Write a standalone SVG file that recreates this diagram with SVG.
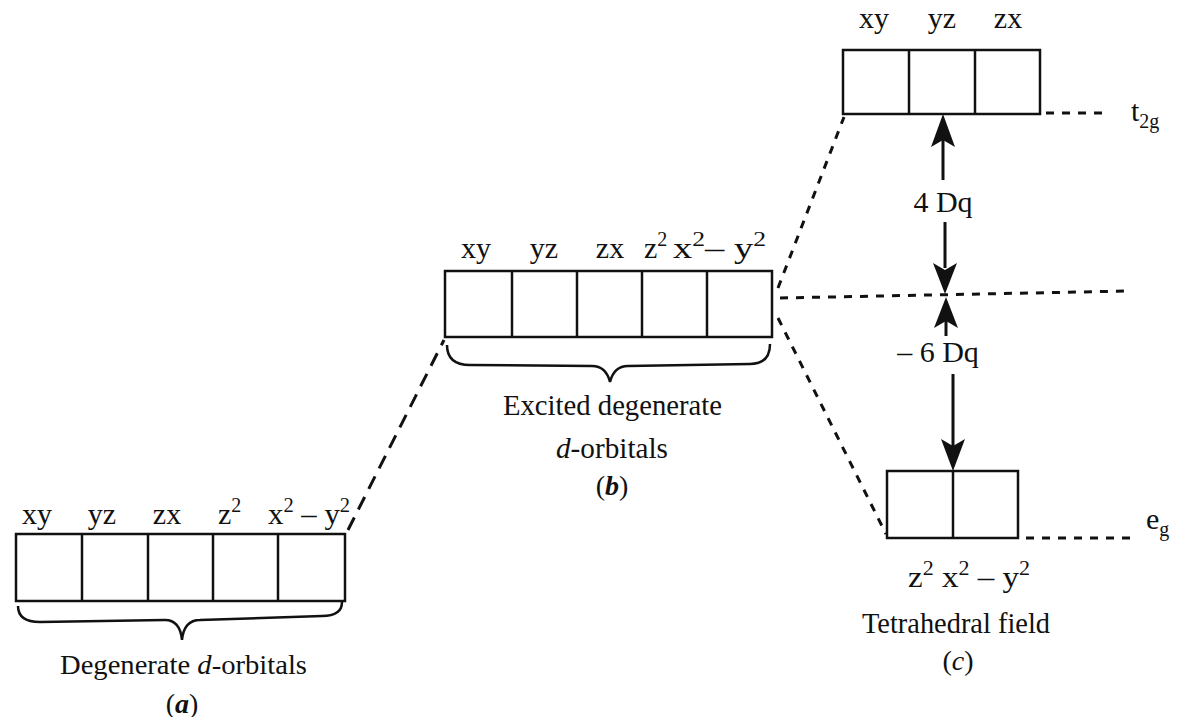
<svg xmlns="http://www.w3.org/2000/svg" width="1192" height="717" viewBox="0 0 1192 717">
<style>
text{font-family:"Liberation Serif","Times New Roman",serif;font-size:30px;fill:#111}
.box{fill:none;stroke:#111;stroke-width:2.5}
.div{stroke:#111;stroke-width:2.5}
.brace{fill:none;stroke:#111;stroke-width:2.5}
.dash{stroke:#111;stroke-width:3;fill:none;stroke-dasharray:14 9}
.dot{stroke:#111;stroke-width:3;fill:none;stroke-dasharray:8 8}
.arr{stroke:#111;stroke-width:3}
.head{fill:#111}
.sup{font-size:20px}
.lbl{font-size:28px}
</style>
<rect width="1192" height="717" fill="#fff"/>
<g id="node-a">
<rect class="box" x="16" y="534" width="329" height="67"/>
<line class="div" x1="82" y1="534" x2="82" y2="601"/>
<line class="div" x1="148" y1="534" x2="148" y2="601"/>
<line class="div" x1="213" y1="534" x2="213" y2="601"/>
<line class="div" x1="278" y1="534" x2="278" y2="601"/>
<text x="37" y="524" text-anchor="middle">xy</text>
<text x="102" y="524" text-anchor="middle">yz</text>
<text x="167" y="524" text-anchor="middle">zx</text>
<text x="218" y="524">z<tspan class="sup" dy="-12">2</tspan></text>
<text x="268" y="524" textLength="82" lengthAdjust="spacingAndGlyphs">x<tspan class="sup" dy="-12">2</tspan><tspan dy="12"> – y</tspan><tspan class="sup" dy="-12">2</tspan></text>
<path class="brace" d="M18,606 Q18,622 40,622 L165,620 Q180,620 182,640 Q184,620 200,620 L322,616 Q342,616 342,602"/>
<text class="lbl" x="60" y="674" textLength="247" lengthAdjust="spacingAndGlyphs">Degenerate <tspan font-style="italic">d</tspan>-orbitals</text>
<text class="lbl" x="182" y="713" text-anchor="middle">(<tspan font-style="italic" font-weight="bold">a</tspan>)</text>
</g>
<g id="node-b">
<rect class="box" x="445" y="271" width="327" height="66"/>
<line class="div" x1="512" y1="271" x2="512" y2="337"/>
<line class="div" x1="577" y1="271" x2="577" y2="337"/>
<line class="div" x1="642" y1="271" x2="642" y2="337"/>
<line class="div" x1="707" y1="271" x2="707" y2="337"/>
<text x="476" y="258" text-anchor="middle">xy</text>
<text x="544" y="258" text-anchor="middle">yz</text>
<text x="610" y="258" text-anchor="middle">zx</text>
<text x="644" y="258">z<tspan class="sup" dy="-12">2</tspan></text>
<text x="673" y="258" textLength="93" lengthAdjust="spacingAndGlyphs">x<tspan class="sup" dy="-12">2</tspan><tspan dy="12">– y</tspan><tspan class="sup" dy="-12">2</tspan></text>
<path class="brace" d="M447,345 Q447,365 470,365 L592,366 Q606,366 610,382 Q614,366 628,366 L750,364 Q770,364 770,344"/>
<text x="503" y="415" textLength="219" lengthAdjust="spacingAndGlyphs">Excited degenerate</text>
<text x="556" y="458" textLength="112" lengthAdjust="spacingAndGlyphs"><tspan font-style="italic">d</tspan>-orbitals</text>
<text class="lbl" x="612" y="495" text-anchor="middle">(<tspan font-style="italic" font-weight="bold">b</tspan>)</text>
</g>
<g id="node-t2g">
<rect class="box" x="843" y="50" width="197" height="64"/>
<line class="div" x1="909" y1="50" x2="909" y2="114"/>
<line class="div" x1="975" y1="50" x2="975" y2="114"/>
<text x="874" y="28" text-anchor="middle">xy</text>
<text x="942" y="28" text-anchor="middle">yz</text>
<text x="1008" y="28" text-anchor="middle">zx</text>
<text x="1131" y="121">t<tspan class="sup" dy="7">2g</tspan></text>
</g>
<g id="node-eg">
<rect class="box" x="887" y="471" width="131" height="67"/>
<line class="div" x1="953" y1="471" x2="953" y2="538"/>
<text x="1146" y="529">e<tspan class="sup" dy="7">g</tspan></text>
<text x="908" y="587" textLength="122" lengthAdjust="spacingAndGlyphs">z<tspan class="sup" dy="-12">2</tspan><tspan dy="12"> x</tspan><tspan class="sup" dy="-12">2</tspan><tspan dy="12"> – y</tspan><tspan class="sup" dy="-12">2</tspan></text>
<text x="862" y="633" textLength="188" lengthAdjust="spacingAndGlyphs">Tetrahedral field</text>
<text class="lbl" x="958" y="670" text-anchor="middle">(<tspan font-style="italic">c</tspan>)</text>
</g>
<g id="connectors">
<line class="dash" x1="348" y1="530" x2="444" y2="340"/>
<line class="dot" x1="778" y1="288" x2="844" y2="117"/>
<line class="dot" x1="778" y1="318" x2="886" y2="534"/>
<line class="dot" x1="780" y1="298" x2="1130" y2="291"/>
<line class="dot" x1="1046" y1="113" x2="1105" y2="113"/>
<line class="dot" x1="1026" y1="538" x2="1130" y2="538"/>
<line class="arr" x1="943" y1="140" x2="943" y2="180"/>
<path class="head" d="M943,114 L931,147 L943,140 L955,147 Z"/>
<text x="943" y="212" text-anchor="middle">4 Dq</text>
<line class="arr" x1="945" y1="222" x2="945" y2="268"/>
<path class="head" d="M945,294 L933,263 L945,270 L957,263 Z"/>
<path class="head" d="M946,297 L934,328 L946,321 L958,328 Z"/>
<line class="arr" x1="946" y1="320" x2="946" y2="336"/>
<text x="938" y="362" text-anchor="middle">– 6 Dq</text>
<line class="arr" x1="953" y1="374" x2="953" y2="446"/>
<path class="head" d="M953,471 L941,439 L953,446 L965,439 Z"/>
</g>
</svg>
